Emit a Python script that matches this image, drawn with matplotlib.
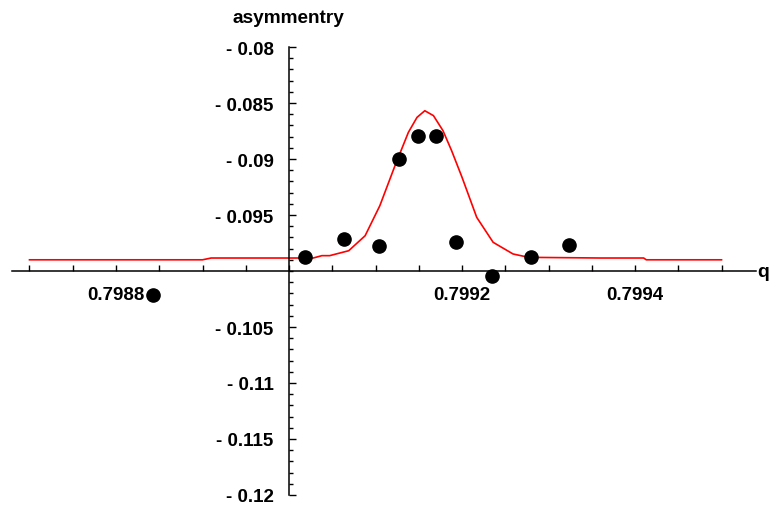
import numpy as np
import matplotlib
matplotlib.use('Agg')
from matplotlib import pyplot as plt
from matplotlib.ticker import FixedLocator, FixedFormatter

# measured points
q_pts = [0.798843, 0.7990185, 0.799063, 0.799104, 0.799127, 0.799149, 0.79917,
         0.799193, 0.799235, 0.79928, 0.799324]
asym_pts = [-0.10214, -0.09875, -0.09717, -0.09780, -0.09000, -0.08792, -0.08792,
            -0.09741, -0.10043, -0.09875, -0.09768]

# fitted curve
q_fit = [0.79870, 0.79890, 0.79891, 0.799028, 0.799038, 0.799047, 0.799069,
         0.799088, 0.799105, 0.7991225, 0.799138, 0.799148, 0.799157, 0.799167,
         0.799178, 0.799188, 0.799200, 0.799217, 0.799236, 0.799259, 0.799277,
         0.79936, 0.79941, 0.799413, 0.79950]
asym_fit = [-0.0990, -0.0990, -0.09884, -0.09884, -0.09863, -0.09863, -0.09819,
            -0.09685, -0.09417, -0.0906, -0.08762, -0.08628, -0.08569, -0.08613,
            -0.08747, -0.08926, -0.09163, -0.09521, -0.09744, -0.09848, -0.09878,
            -0.09884, -0.09884, -0.0990, -0.0990]

x_labels_at = [0.7988, 0.7992, 0.7994]
x_labels = ['0.7988', '0.7992', '0.7994']
y_labels_at = [-0.12, -0.115, -0.11, -0.105, -0.095, -0.09, -0.085, -0.08]
y_labels = ['- 0.12', '- 0.115', '- 0.11', '- 0.105', '- 0.095', '- 0.09', '- 0.085', '- 0.08']

plt.rcParams['font.family'] = ['Liberation Sans', 'DejaVu Sans']
plt.rcParams['font.weight'] = 'bold'

fig = plt.figure(figsize=(7.71, 5.06), dpi=100)
ax = fig.add_axes([0, 0, 1, 1])
ax.patch.set_visible(False)

ax.plot(q_fit, asym_fit, color='red', lw=1.2, zorder=2)
ax.plot(q_pts, asym_pts, 'o', color='black', ms=9.5, zorder=3, clip_on=False)

ax.set_xlim(0.7986659, 0.7995572)
ax.set_ylim(-0.120893, -0.075714)

for s in ['top', 'right']:
    ax.spines[s].set_visible(False)
ax.spines['left'].set_position(('data', 0.799))
ax.spines['bottom'].set_position(('data', -0.1))
ax.spines['left'].set_bounds(-0.12, -0.08)
ax.spines['bottom'].set_bounds(0.79868, 0.79954)
ax.spines['left'].set_linewidth(1.1)
ax.spines['bottom'].set_linewidth(1.1)

ax.xaxis.set_major_locator(FixedLocator(x_labels_at))
ax.xaxis.set_major_formatter(FixedFormatter(x_labels))
ax.xaxis.set_minor_locator(FixedLocator(np.arange(0.79870, 0.799541, 0.00005)))
ax.yaxis.set_major_locator(FixedLocator(y_labels_at))
ax.yaxis.set_major_formatter(FixedFormatter(y_labels))
ax.yaxis.set_minor_locator(FixedLocator(np.arange(-0.12, -0.0799, 0.001)))

ax.tick_params(axis='x', which='both', direction='in', length=4.5, width=1.0,
               labelsize=13.5, pad=11)
ax.tick_params(axis='y', which='major', direction='in', length=5, width=1.0,
               labelsize=13.5, pad=11)
ax.tick_params(axis='y', which='minor', direction='in', length=3, width=1.0)

ax.text(0.799 - 0.000001, -0.07741, 'asymmentry', ha='center', va='center',
        fontsize=13.7, fontweight='bold')
ax.text(0.799548, -0.1, 'q', ha='center', va='center', fontsize=14, fontweight='bold')

fig.savefig('out.png', dpi=100)
